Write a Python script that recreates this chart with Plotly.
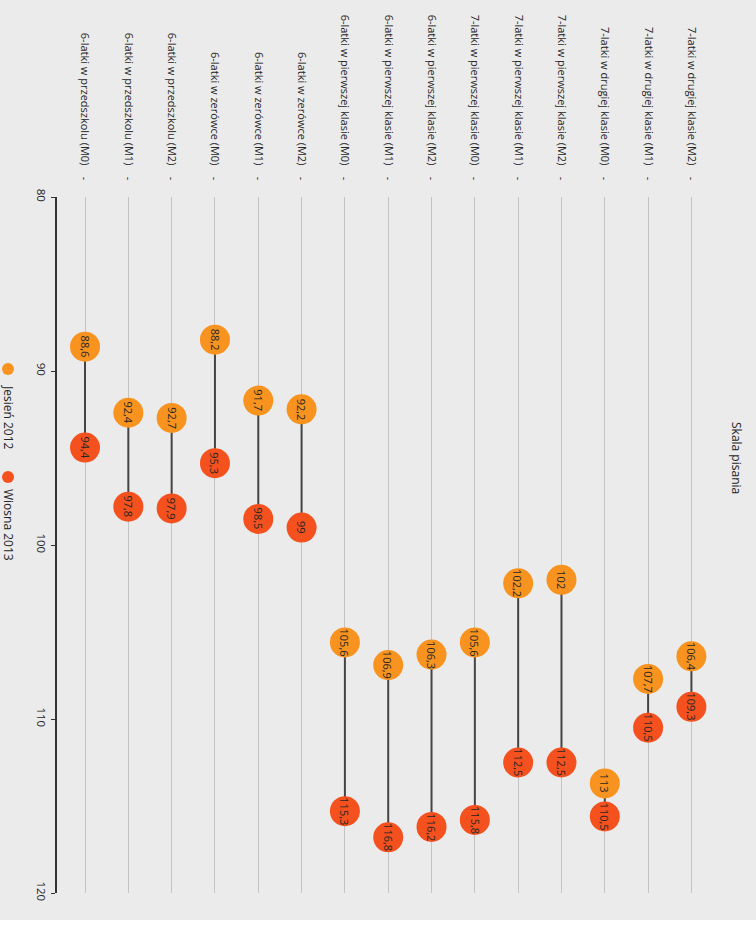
import plotly.graph_objects as go

categories = [
    "6-latki w przedszkolu (M0)", "6-latki w przedszkolu (M1)", "6-latki w przedszkolu (M2)",
    "6-latki w zerówce (M0)", "6-latki w zerówce (M1)", "6-latki w zerówce (M2)",
    "6-latki w pierwszej klasie (M0)", "6-latki w pierwszej klasie (M1)", "6-latki w pierwszej klasie (M2)",
    "7-latki w pierwszej klasie (M0)", "7-latki w pierwszej klasie (M1)", "7-latki w pierwszej klasie (M2)",
    "7-latki w drugiej klasie (M0)", "7-latki w drugiej klasie (M1)", "7-latki w drugiej klasie (M2)",
]
# plotted positions
jesien_2012 = [88.6, 92.4, 92.7, 88.2, 91.7, 92.2, 105.6, 106.9, 106.3, 105.6, 102.2, 102.0, 113.7, 107.7, 106.4]
wiosna_2013 = [94.4, 97.8, 97.9, 95.3, 98.5, 99.0, 115.3, 116.8, 116.2, 115.8, 112.5, 112.5, 115.6, 110.5, 109.3]
# labels shown inside the circles
jesien_labels = ["88,6", "92,4", "92,7", "88,2", "91,7", "92,2", "105,6", "106,9", "106,3", "105,6", "102,2", "102", "113", "107,7", "106,4"]
wiosna_labels = ["94,4", "97,8", "97,9", "95,3", "98,5", "99", "115,3", "116,8", "116,2", "115,8", "112,5", "112,5", "110,5", "110,5", "109,3"]
y_ticks = [80, 90, 100, 110, 120]
series_names = ["Jesień 2012", "Wiosna 2013"]
title_text = "Skala pisania"

C_J = "#F7931E"
C_W = "#F4511E"
BG = "#ebebeb"
FONT = "Open Sans"
TXT = "#262626"

W, H = 756, 932
L, R, T, B = 57, 36, 197, 39
pw, ph = W - L - R, H - T - B

def px(xp):
    return (xp - L) / pw

def py(yp):
    return (H - B - yp) / ph

xs = list(range(len(categories)))

fig = go.Figure()

# connectors
cx, cy = [], []
for i in xs:
    cx += [i, i, None]
    cy += [jesien_2012[i], wiosna_2013[i], None]
fig.add_trace(go.Scatter(x=cx, y=cy, mode="lines", line=dict(color="#444444", width=2),
                         hoverinfo="skip", showlegend=False))

fig.add_trace(go.Scatter(x=xs, y=jesien_2012, mode="markers", name=series_names[0],
                         marker=dict(size=30, color=C_J), showlegend=False))
fig.add_trace(go.Scatter(x=xs, y=wiosna_2013, mode="markers", name=series_names[1],
                         marker=dict(size=30, color=C_W), showlegend=False))

annotations = []
lab_font = dict(family=FONT, size=11, color=TXT)
for i in xs:
    annotations.append(dict(x=i, y=jesien_2012[i], text=jesien_labels[i], showarrow=False,
                            textangle=90, xanchor="center", yanchor="middle", font=lab_font))
    annotations.append(dict(x=i, y=wiosna_2013[i], text=wiosna_labels[i], showarrow=False,
                            textangle=90, xanchor="center", yanchor="middle", font=lab_font))

annotations.append(dict(xref="paper", yref="paper", x=px(737), y=py(458), text=title_text,
                        showarrow=False, textangle=90, xanchor="center", yanchor="middle",
                        font=dict(family=FONT, size=12, color=TXT)))

# legend (rotated, drawn manually)
legend_pos = [(369, 418, C_J), (477, 525, C_W)]
shapes = []
for (dot_y, txt_y, col), name in zip(legend_pos, series_names):
    shapes.append(dict(type="circle", xref="paper", yref="paper", xsizemode="pixel", ysizemode="pixel",
                       xanchor=px(8), yanchor=py(dot_y), x0=-6, x1=6, y0=-6, y1=6,
                       fillcolor=col, line=dict(width=0)))
    annotations.append(dict(xref="paper", yref="paper", x=px(9), y=py(txt_y), text=name,
                            showarrow=False, textangle=90, xanchor="center", yanchor="middle",
                            font=dict(family=FONT, size=12, color=TXT)))

# white strip at the bottom
shapes.append(dict(type="rect", xref="paper", yref="paper", x0=px(-5), x1=px(W + 5), y0=py(H + 5), y1=py(920),
                   fillcolor="white", line=dict(width=0), layer="below"))

tick_text = [c + "\u00a0\u00a0\u00a0\u00a0-" for c in categories]

fig.update_layout(
    width=W, height=H,
    margin=dict(l=L, r=R, t=T, b=B, pad=0),
    paper_bgcolor=BG, plot_bgcolor=BG,
    font=dict(family=FONT, size=11, color=TXT),
    showlegend=False,
    annotations=annotations,
    shapes=shapes,
    xaxis=dict(range=[-0.647, 14.66], tickmode="array", tickvals=xs, ticktext=tick_text,
               side="top", tickangle=90, showgrid=True, gridcolor="#c4c4c4", gridwidth=1,
               zeroline=False, showline=False, ticks="", ticklabelstandoff=14,
               tickfont=dict(family=FONT, size=11, color=TXT)),
    yaxis=dict(range=[120, 80], tickmode="array", tickvals=y_ticks, ticktext=[str(v) for v in y_ticks],
               tickangle=90, showgrid=False, zeroline=False, showline=True, linecolor="#333333",
               linewidth=1.5, ticks="outside", ticklen=4, tickcolor="#333333",
               tickfont=dict(family=FONT, size=11.5, color=TXT)),
)

fig.write_html("out.html", config={"displayModeBar": False},
               post_script="document.body.style.margin='0';document.body.style.overflow='hidden';")
